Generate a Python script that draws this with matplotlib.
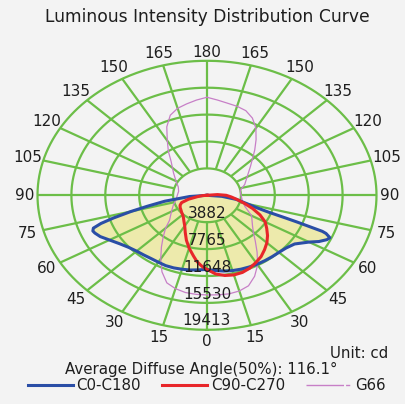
import numpy as np
import matplotlib
matplotlib.use("Agg")
import matplotlib.pyplot as plt
from matplotlib.lines import Line2D

# ---------------- data (angles in degrees, intensities in cd) ----------------
ang_c0 = [0, 5, 10, 15, 20, 25, 30, 35, 40, 45, 50, 55, 60, 62.5, 65, 66.5, 68, 68.5,
          69, 69.5, 70, 71, 72.5, 75, 80, 85, 90]
c0 = [10700, 10900, 11100, 11250, 11350, 11420, 11480, 11530, 11580, 11650, 11830, 12250,
      13500, 14450, 15150, 15350, 14700, 14200, 12400, 11000, 9600, 7400, 6000, 4800, 3400,
      1700, 0]

ang_c180 = [0, 5, 10, 15, 20, 25, 30, 35, 40, 45, 50, 55, 60, 64, 67, 68.5, 70, 71.5, 73,
            75, 77, 80, 85, 90]
c180 = [10700, 10800, 10950, 11050, 11150, 11200, 11150, 11150, 11250, 11400, 11700, 12200,
        12900, 13600, 13950, 14050, 13850, 12800, 11200, 9000, 7000, 4900, 2000, 0]

ang_c90 = [0, 5, 10, 15, 20, 25, 30, 35, 40, 45, 50, 55, 60, 65, 70, 75, 80, 85, 90, 95, 100]
c90 = [10700, 11400, 11750, 11900, 11850, 11600, 11200, 10800, 10250, 9700, 9050, 8350,
       7700, 6700, 5550, 4400, 3500, 2800, 2200, 1200, 0]

ang_c270 = [0, 3, 5, 7, 10, 15, 20, 25, 30, 35, 40, 45, 50, 55, 60, 65, 70, 75, 80, 85, 90]
c270 = [10700, 10300, 9950, 9600, 8900, 7900, 6900, 5900, 5100, 4600, 4200, 3950, 3800,
        3650, 3550, 3400, 3100, 2200, 1100, 500, 0]

ang_g66 = [0, 5, 10, 15, 20, 25, 30, 35, 40, 45, 50, 60, 70, 80, 90, 100, 110, 120, 130,
           140, 145, 150, 155, 160, 165, 170, 175, 180]
g66_right = [14380, 14420, 14450, 14300, 13900, 12900, 11600, 10000, 8600, 7500, 6800, 5900,
             4600, 4100, 3900, 3850, 4600, 5300, 6500, 8500, 9800, 11200, 12300, 13000,
             13300, 13500, 13800, 14150]
g66_left = [14380, 14350, 14250, 13950, 13450, 12200, 10600, 9100, 7800, 6700, 5600, 4700,
            4100, 3600, 3400, 3300, 3500, 4100, 5000, 6400, 7700, 9100, 10900, 12300, 13000,
            13400, 13800, 14150]

ring_values = [3882, 7765, 11648, 15530, 19413]
angle_ticks = [0, 15, 30, 45, 60, 75, 90, 105, 120, 135, 150, 165, 180]

title = "Luminous Intensity Distribution Curve"
unit_text = "Unit: cd"
diffuse_text = "Average Diffuse Angle(50%): 116.1°"
legend_labels = ["C0-C180", "C90-C270", "G66"]

# ---------------- style ----------------
BG = "#f3f3f3"
GREEN = "#6cbe48"
BLUE = "#2a4ea6"
RED = "#e8262a"
PINK = "#c77fc7"
FILL = "#edeaac"
TXT = "#1e1e1e"

fig = plt.figure(figsize=(4.05, 4.04), dpi=100, facecolor=BG)
W, H = 405.0, 404.0
cx, cy = 207.0, 195.3
rx, ry = 169.5, 134.5
ax = fig.add_axes([(cx - rx) / W, 1 - (cy + ry) / H, 2 * rx / W, 2 * ry / H],
                  projection="polar")
ax.set_aspect("auto")
ax.set_facecolor(BG)
ax.patch.set_visible(False)
ax.set_theta_zero_location("S")
ax.set_theta_direction(1)
rmax = ring_values[-1]
ax.set_ylim(0, rmax)
ax.grid(False)
ax.set_xticks([])
ax.set_yticks([])
ax.spines["polar"].set_visible(False)


def side(angles, vals, sign):
    return np.deg2rad(np.asarray(angles, float)) * sign, np.asarray(vals, float)


# blue curve (C0 right, C180 left) + fill
t_r, r_r = side(ang_c0, c0, 1)
t_l, r_l = side(ang_c180, c180, -1)
tb = np.concatenate([t_l[::-1], t_r])
rb = np.concatenate([r_l[::-1], r_r])
ax.fill(tb, rb, color=FILL, zorder=1, lw=0)

# grid
full = np.linspace(0, 2 * np.pi, 721)
for i in range(len(ring_values)):
    ax.plot(full, np.full_like(full, rmax * (i + 1) / 5.0),
            color=GREEN, lw=1.6, zorder=2, clip_on=False)
for a in range(0, 360, 15):
    ax.plot([np.deg2rad(a)] * 2, [rmax / 5.0, rmax], color=GREEN, lw=1.6, zorder=2,
            clip_on=False, solid_capstyle="butt")

# G66
tg_r, rg_r = side(ang_g66, g66_right, 1)
tg_l, rg_l = side(ang_g66, g66_left, -1)
tg = np.concatenate([tg_l[::-1], tg_r])
rg = np.concatenate([rg_l[::-1], rg_r])
ax.plot(tg, rg, color=PINK, lw=0.9, zorder=3)

# blue line
ax.plot(tb, rb, color=BLUE, lw=2.2, zorder=4)

# red curve
t9, r9 = side(ang_c90, c90, 1)
t27, r27 = side(ang_c270, c270, -1)
ax.plot(np.concatenate([t27[::-1], t9]), np.concatenate([r27[::-1], r9]),
        color=RED, lw=2.2, zorder=5)

# radial labels
for i, rv in enumerate(ring_values):
    ax.annotate(str(rv), xy=(0, rmax * (i + 1) / 5.0), xytext=(0, 1),
                textcoords="offset points", ha="center", va="bottom",
                fontsize=11, color=TXT, zorder=6)

# angle labels
for a in angle_ticks:
    f = 1.095
    if a == 180:
        f = 1.06
    elif a == 90:
        f = 1.075
    elif a == 0:
        f = 1.085
    sides = [1] if a in (0, 180) else [1, -1]
    for s in sides:
        ax.text(np.deg2rad(a) * s, rmax * f, str(a), ha="center", va="center",
                fontsize=11, color=TXT, clip_on=False)

# texts
fig.text(cx / W, 1 - 17 / H, title, ha="center", va="center", fontsize=12.3, color=TXT)
fig.text(388 / W, 1 - 354 / H, unit_text, ha="right", va="center", fontsize=10.8, color=TXT)
fig.text(201.5 / W, 1 - 369 / H, diffuse_text, ha="center", va="center", fontsize=10.8,
         color=TXT)

handles = [Line2D([], [], color=BLUE, lw=2.2),
           Line2D([], [], color=RED, lw=2.2),
           Line2D([], [], color=PINK, lw=1.0, dashes=(27, 1.5, 3, 1.5))]
fig.legend(handles, legend_labels, loc="center", bbox_to_anchor=(206.5 / W, 1 - 386 / H),
           ncol=3, frameon=False, fontsize=10.8, handlelength=3.0, handletextpad=0.25,
           columnspacing=1.4, labelcolor=TXT, borderpad=0, borderaxespad=0)

fig.savefig("out.png", dpi=100, facecolor=BG)
